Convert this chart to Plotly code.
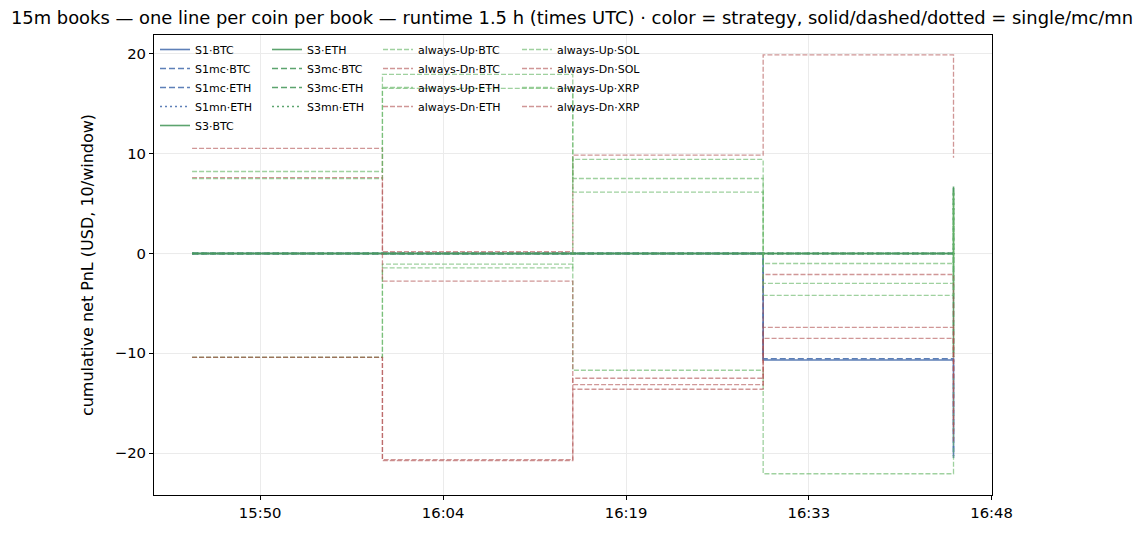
import plotly.graph_objects as go

# ---------------- data ----------------
step_times = ["2025-01-01 15:45:00", "2025-01-01 16:00:00", "2025-01-01 16:15:00",
              "2025-01-01 16:30:00", "2025-01-01 16:45:00"]

tick_vals = ["2025-01-01 15:50:22", "2025-01-01 16:04:47", "2025-01-01 16:19:12",
             "2025-01-01 16:33:36", "2025-01-01 16:48:00"]
tick_text = ["15:50", "16:04", "16:19", "16:33", "16:48"]
y_ticks = [-20, -10, 0, 10, 20]

# strategy books (cumulative net PnL at each window settle)
s1_btc = [0, 0, 0, -10.67, -20.5]
s1mc_btc = [0, 0, 0, -10.55, -20.3]
s1mc_eth = [0, 0, 0, 0, 0]
s1mn_eth = [0, 0, 0, 0, 0]
s3_btc = [0, 0, 0, 0, 6.7]
s3_eth = [0, 0, 0, 0, -10.4]
s3mc_btc = [0, 0, 0, 0, 6.7]
s3mc_eth = [0, 0, 0, 0, -10.4]
s3mn_eth = [0, 0, 0, 0, 6.7]

# always-Up / always-Dn baselines
up_btc = [-10.4, -1.07, -11.7, -22.07, -12.4]
dn_btc = [10.53, 0.2, 9.86, 19.9, 9.6]
up_eth = [8.22, 17.95, 7.52, -3.0, 6.2]
dn_eth = [-10.4, -20.66, -12.5, -2.1, -12.5]
up_sol = [-10.4, -1.44, 9.43, -1.0, 5.8]
dn_sol = [7.6, -2.77, -13.14, -7.4, -17.8]
up_xrp = [7.5, 16.55, 6.15, -4.2, 4.9]
dn_xrp = [-10.4, -20.75, -13.6, -8.5, -18.9]

# ---------------- styles ----------------
BLUE = "#4c72b0"
GREEN = "#4a9a5e"
UP_C = "rgba(100,180,100,0.62)"
DN_C = "rgba(176,80,80,0.6)"

# (name, values, color, dash, width, legend column)
series = [
    ("S1·BTC", s1_btc, BLUE, "solid", 1.6, 1),
    ("S1mc·BTC", s1mc_btc, BLUE, "6px,3px", 1.6, 1),
    ("S1mc·ETH", s1mc_eth, BLUE, "6px,3px", 1.6, 1),
    ("S1mn·ETH", s1mn_eth, BLUE, "2px,3px", 1.6, 1),
    ("S3·BTC", s3_btc, GREEN, "solid", 1.6, 1),
    ("S3·ETH", s3_eth, GREEN, "solid", 1.6, 2),
    ("S3mc·BTC", s3mc_btc, GREEN, "6px,3px", 1.6, 2),
    ("S3mc·ETH", s3mc_eth, GREEN, "6px,3px", 1.6, 2),
    ("S3mn·ETH", s3mn_eth, GREEN, "2px,3px", 1.6, 2),
    ("always-Up·BTC", up_btc, UP_C, "5px,2px", 1.3, 3),
    ("always-Dn·BTC", dn_btc, DN_C, "5px,2px", 1.3, 3),
    ("always-Up·ETH", up_eth, UP_C, "5px,2px", 1.3, 3),
    ("always-Dn·ETH", dn_eth, DN_C, "5px,2px", 1.3, 3),
    ("always-Up·SOL", up_sol, UP_C, "5px,2px", 1.3, 4),
    ("always-Dn·SOL", dn_sol, DN_C, "5px,2px", 1.3, 4),
    ("always-Up·XRP", up_xrp, UP_C, "5px,2px", 1.3, 4),
    ("always-Dn·XRP", dn_xrp, DN_C, "5px,2px", 1.3, 4),
]
col_width = {1: 67, 2: 66, 3: 94, 4: 94}

fig = go.Figure()
for i, (name, vals, color, dash, width, col) in enumerate(series):
    fig.add_trace(go.Scatter(
        x=step_times, y=vals, name=name, mode="lines",
        line=dict(color=color, dash=dash, width=width, shape="hv"),
        opacity=0.9 if col <= 2 else 1.0,
        legendgroup=f"col{col}", legendrank=i + 1, legendwidth=col_width[col],
    ))

fig.add_hline(y=0, line=dict(color="#c8c8c8", width=1), layer="below")

FONT = "DejaVu Sans"
# page body has an 8px margin -> figure is 1136x526 placed at (8, 8)
fig.update_layout(
    width=1136, height=526,
    margin=dict(l=146, r=152, t=27, b=39, autoexpand=False),
    paper_bgcolor="white", plot_bgcolor="white",
    font=dict(family=FONT, color="black", size=14.8),
    title=dict(text="15m books — one line per coin per book — runtime 1.5 h (times UTC) · color = strategy, solid/dashed/dotted = single/mc/mn",
               x=564 / 1136, xanchor="center", y=1 - 10 / 526, yanchor="middle",
               font=dict(family=FONT, size=17.9, color="black")),
    showlegend=True,
    legend=dict(orientation="h", traceorder="grouped", x=0.0012, y=1.0,
                xanchor="left", yanchor="top", bgcolor="rgba(0,0,0,0)",
                font=dict(family=FONT, size=11), tracegroupgap=0,
                itemwidth=30),
)
fig.update_xaxes(
    type="date", range=["2025-01-01 15:42:00", "2025-01-01 16:48:02"],
    tickvals=tick_vals, ticktext=tick_text,
    showgrid=True, gridcolor="#ebebeb", gridwidth=1,
    showline=True, linecolor="black", linewidth=1, mirror=True,
    ticks="outside", ticklen=4, tickwidth=1, tickcolor="black",
    tickfont=dict(size=14.8), zeroline=False,
)
fig.update_yaxes(
    range=[-24.2, 21.9], tickvals=y_ticks,
    title=dict(text="cumulative net PnL (USD, 10/window)", font=dict(size=16), standoff=17),
    showgrid=True, gridcolor="#ebebeb", gridwidth=1,
    showline=True, linecolor="black", linewidth=1, mirror=True,
    ticks="outside", ticklen=4, tickwidth=1, tickcolor="black",
    tickfont=dict(size=14.8), zeroline=False,
)

fig.write_html("out.html")
